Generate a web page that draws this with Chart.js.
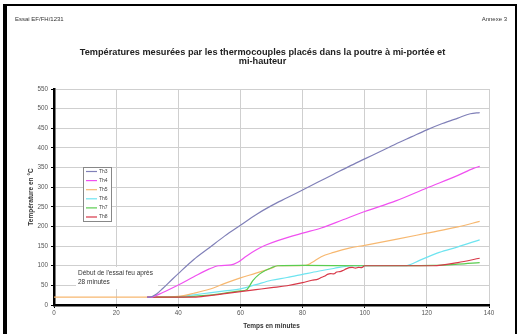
<!DOCTYPE html>
<html>
<head>
<meta charset="utf-8">
<title>Températures mesurées - poutre</title>
<style>
  html, body { margin: 0; padding: 0; background: #fff; }
  #wrap { width: 519px; height: 334px; }
</style>
<script src="https://cdn.jsdelivr.net/npm/chart.js@4/dist/chart.umd.min.js"></script>
</head>
<body>
<div id="wrap"><canvas id="chart" width="519" height="334"></canvas></div>
<script>
const seriesNames = ['Th3', 'Th4', 'Th5', 'Th6', 'Th7', 'Th8'];
const seriesColors = ['#8080b8', '#f050f0', '#f7b870', '#6ee4f0', '#5acc50', '#d83848'];

const th3Time = [30, 31, 33, 35, 38, 40, 45, 50, 55, 60, 65, 70, 75, 80, 85, 90, 95, 100, 105, 110, 115, 120, 125, 130, 134, 137];
const th3Temp = [20, 20, 28, 42, 65, 80, 116, 146, 176, 203, 230, 253, 273, 293, 313, 333, 353, 372, 391, 410, 428, 446, 462, 476, 487, 490];

const th4Time = [30, 31, 35, 40, 45, 50, 53, 57, 59, 62, 65, 68, 72, 80, 86, 93, 100, 110, 120, 130, 135, 137];
const th4Temp = [20, 20, 32, 51, 72, 92, 100, 102, 108, 125, 140, 152, 164, 183, 196, 217, 238, 265, 298, 330, 348, 353];

const th5Time = [0, 35, 40, 45, 50, 55, 60, 65, 70, 72, 81, 83, 86, 90, 95, 100, 110, 120, 130, 137];
const th5Temp = [20, 20, 22, 30, 40, 55, 69, 81, 94, 100, 101, 108, 123, 134, 145, 152, 167, 183, 199, 213];

const th6Time = [30, 38, 45, 50, 55, 60, 65, 70, 75, 80, 85, 90, 96, 113, 118, 124, 130, 137];
const th6Temp = [20, 20, 26, 31, 36, 41, 52, 63, 70, 78, 86, 93, 100, 100, 115, 134, 148, 166];

const th7Time = [30, 40, 45, 50, 55, 60, 62, 64, 66, 68, 70, 72, 80, 100, 122, 130, 137];
const th7Temp = [20, 20, 22, 25, 30, 36, 39, 62, 78, 88, 95, 100, 101, 100, 101, 104, 108];

const th8Time = [30, 45, 50, 55, 60, 65, 70, 75, 80, 83, 85, 86, 87, 88, 89, 90, 91, 92, 93, 94, 95, 96, 97, 98, 99, 100, 122, 130, 137];
const th8Temp = [20, 20, 24, 29, 34, 39, 44, 49, 57, 63, 66, 70, 73, 78, 80, 79, 84, 85, 88, 92, 95, 96, 94, 96, 95, 100, 100, 108, 119];

const seriesTimes = [th3Time, th4Time, th5Time, th6Time, th7Time, th8Time];
const seriesTemps = [th3Temp, th4Temp, th5Temp, th6Temp, th7Temp, th8Temp];
// drawing order: lower = on top
const seriesOrder = [0, 1, 4, 5, 3, 2];

const FONT = "'Liberation Sans', Arial, sans-serif";

const datasets = seriesNames.map((name, i) => ({
  label: name,
  data: seriesTimes[i].map((t, j) => ({ x: t, y: seriesTemps[i][j] })),
  borderColor: seriesColors[i],
  backgroundColor: seriesColors[i],
  borderWidth: 1.2,
  pointRadius: 0,
  cubicInterpolationMode: 'monotone',
  order: seriesOrder[i],
}));

/* ---- Page decorations: frame, header, title, note, legend ---- */
const pagePlugin = {
  id: 'page',
  beforeDraw(chart) {
    const ctx = chart.ctx;
    ctx.save();
    ctx.fillStyle = '#fff';
    ctx.fillRect(0, 0, chart.width, chart.height);
    ctx.restore();
  },
  beforeDatasetsDraw(chart) {
    const ctx = chart.ctx;
    ctx.save();
    // white text box hiding the grid behind the note
    ctx.fillStyle = '#fff';
    ctx.fillRect(76, 267, 82, 22);
    ctx.fillStyle = '#333';
    ctx.font = '6.5px ' + FONT;
    ctx.textBaseline = 'middle';
    ctx.fillText("Début de l'essai feu après", 78, 273);
    ctx.fillText('28 minutes', 78, 282);
    ctx.restore();
  },
  afterDraw(chart) {
    const ctx = chart.ctx;
    ctx.save();
    // frame
    ctx.fillStyle = '#000';
    ctx.fillRect(3, 4, 4, 330);
    ctx.fillRect(3, 4, 514, 2);
    ctx.fillRect(515, 4, 2, 330);

    // header
    ctx.fillStyle = '#333';
    ctx.font = '6px ' + FONT;
    ctx.textBaseline = 'middle';
    ctx.textAlign = 'left';
    ctx.fillText('Essai EF/FH/1231', 15, 19);
    ctx.textAlign = 'right';
    ctx.fillText('Annexe 3', 507, 19);

    // title
    ctx.fillStyle = '#222';
    ctx.font = 'bold 9.2px ' + FONT;
    ctx.textAlign = 'center';
    ctx.fillText('Températures mesurées par les thermocouples placés dans la poutre à mi-portée et', 262.5, 52);
    ctx.fillText('mi-hauteur', 262.5, 61.5);

    // legend box
    ctx.fillStyle = '#fff';
    ctx.fillRect(83, 167, 28, 54);
    ctx.strokeStyle = '#888';
    ctx.lineWidth = 1;
    ctx.strokeRect(83.5, 167.5, 28, 54);
    ctx.font = '5px ' + FONT;
    ctx.textAlign = 'left';
    chart.data.datasets.forEach((ds, i) => {
      const y = 171.5 + i * 9.1;
      ctx.strokeStyle = ds.borderColor;
      ctx.lineWidth = 1.2;
      ctx.beginPath();
      ctx.moveTo(86, y);
      ctx.lineTo(97, y);
      ctx.stroke();
      ctx.fillStyle = '#444';
      ctx.fillText(ds.label, 99, y);
    });
    ctx.restore();
  }
};

new Chart(document.getElementById('chart'), {
  type: 'line',
  data: { datasets },
  options: {
    responsive: false,
    animation: false,
    layout: { padding: { left: 14, right: 30, top: 89, bottom: 0 } },
    plugins: { legend: { display: false }, tooltip: { enabled: false } },
    scales: {
      x: {
        type: 'linear',
        min: 0,
        max: 140,
        ticks: { stepSize: 20, color: '#555', padding: 1.8, font: { family: FONT, size: 6.3 } },
        grid: { color: '#cfcfcf', tickColor: '#000', tickLength: 3 },
        border: { color: '#000', width: 2.5 },
        title: { display: true, text: 'Temps en minutes', color: '#333', padding: { top: 0, bottom: 4.1 }, font: { family: FONT, size: 6.5, weight: 'bold' } },
        afterFit: (scale) => { scale.height = 29; }
      },
      y: {
        min: 0,
        max: 550,
        ticks: { stepSize: 50, color: '#555', padding: 3, font: { family: FONT, size: 6.3 } },
        grid: { color: '#cfcfcf', tickColor: '#000', tickLength: 3 },
        border: { color: '#000', width: 2.5 },
        title: { display: true, text: 'Température en °C', color: '#333', padding: { top: 13.1, bottom: 0 }, font: { family: FONT, size: 6.5, weight: 'bold' } },
        afterFit: (scale) => { scale.width = 40; }
      }
    }
  },
  plugins: [pagePlugin]
});
</script>
</body>
</html>
